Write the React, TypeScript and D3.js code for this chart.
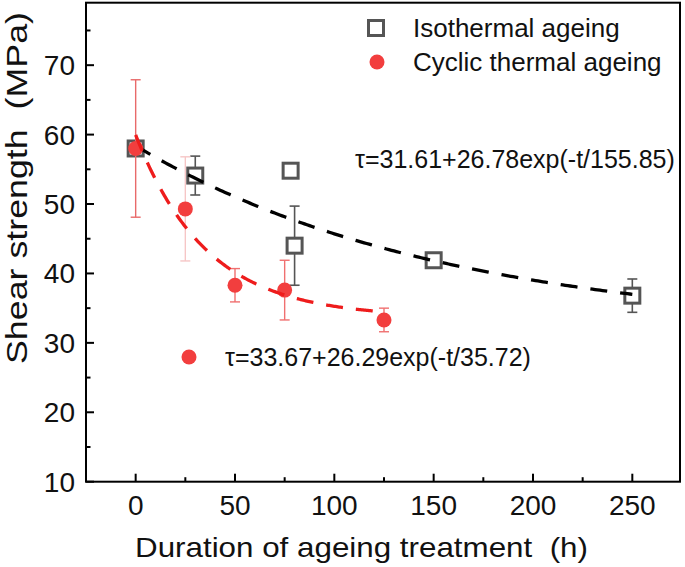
import React from "react";
import * as d3 from "d3";

// ---- data ----
const isoT = [0, 30, 78, 80, 150, 250];
const isoV = [58, 54.1, 54.8, 44, 41.9, 36.8];
const isoErr = [0, 2.8, 0, 5.7, 0, 2.4];

const cycT = [0, 25, 50, 75, 125];
const cycV = [58, 49.3, 38.3, 37.6, 33.3];
const cycErr = [9.9, 7.5, 2.4, 4.3, 1.7];
const cycErrColor = ["#e86a6a", "#f6c6c6", "#f07070", "#f07070", "#f07070"];

// fit parameters shown on the chart: tau = a + b*exp(-t/c)
const isoFit = [31.61, 26.78, 155.85];
const cycFit = [33.67, 26.29, 35.72];
const isoFitRange = [0, 250];
const cycFitRange = [0, 125];

const xTicks = [0, 50, 100, 150, 200, 250];
const xMinor = [-25, 25, 75, 125, 175, 225];
const yTicks = [10, 20, 30, 40, 50, 60, 70];
const yMinor = [15, 25, 35, 45, 55, 65, 75];

const W = 685, H = 567;
const L = 86, R = 680, T = 2.7, B = 481.7;
const FONT = "'Liberation Sans', Arial, sans-serif";

export default function App() {
  const x = d3.scaleLinear().domain([-25, 274]).range([L, R]);
  const y = d3.scaleLinear().domain([10, 79]).range([B, T]);

  const fitPts = (p: number[], r: number[]) =>
    d3.range(0, 201).map((i) => {
      const t = r[0] + ((r[1] - r[0]) * i) / 200;
      return [t, p[0] + p[1] * Math.exp(-t / p[2])] as [number, number];
    });
  const line = d3
    .line<[number, number]>()
    .x((d) => x(d[0]))
    .y((d) => y(d[1]));

  const sq = 15;
  const cap = 5;

  return (
    <svg
      width={W}
      height={H}
      style={{ position: "absolute", left: 0, top: 0, background: "#fff" }}
      fontFamily={FONT}
    >
      <rect x={0} y={0} width={W} height={H} fill="#fff" />
      {/* ticks */}
      {xTicks.map((t) => (
        <g key={"xt" + t}>
          <line x1={x(t)} x2={x(t)} y1={B} y2={B - 8} stroke="#000" strokeWidth={2} />
          <text x={x(t)} y={515} fontSize={28} textAnchor="middle" fill="#111">
            {t}
          </text>
        </g>
      ))}
      {xMinor.map((t) => (
        <line key={"xm" + t} x1={x(t)} x2={x(t)} y1={B} y2={B - 4.5} stroke="#000" strokeWidth={2} />
      ))}
      {yTicks.map((v) => (
        <g key={"yt" + v}>
          <line x1={L} x2={L + 8} y1={y(v)} y2={y(v)} stroke="#000" strokeWidth={2} />
          <text x={75} y={y(v) + 10} fontSize={28} textAnchor="end" fill="#111">
            {v}
          </text>
        </g>
      ))}
      {yMinor.map((v) => (
        <line key={"ym" + v} x1={L} x2={L + 4.5} y1={y(v)} y2={y(v)} stroke="#000" strokeWidth={2} />
      ))}
      {/* frame */}
      <rect x={L} y={T} width={R - L} height={B - T} fill="none" stroke="#000" strokeWidth={2} />

      {/* axis titles */}
      <text x={135} y={557} fontSize={28} textLength={453} lengthAdjust="spacingAndGlyphs" fill="#111">
        {"Duration of ageing treatment\u00a0\u00a0(h)"}
      </text>
      <text
        transform={`translate(27,${188}) rotate(-90)`}
        fontSize={29}
        textAnchor="middle"
        textLength={352}
        lengthAdjust="spacingAndGlyphs"
        fill="#111"
      >
        {"Shear strength\u00a0\u00a0(MPa)"}
      </text>

      {/* isothermal error bars */}
      {isoT.map((t, i) =>
        isoErr[i] > 0 ? (
          <g key={"ie" + i} stroke="#555" strokeWidth={1.6}>
            <line x1={x(t)} x2={x(t)} y1={y(isoV[i] + isoErr[i])} y2={y(isoV[i] - isoErr[i])} />
            <line x1={x(t) - cap} x2={x(t) + cap} y1={y(isoV[i] + isoErr[i])} y2={y(isoV[i] + isoErr[i])} />
            <line x1={x(t) - cap} x2={x(t) + cap} y1={y(isoV[i] - isoErr[i])} y2={y(isoV[i] - isoErr[i])} />
          </g>
        ) : null
      )}
      {/* isothermal squares */}
      {isoT.map((t, i) => (
        <rect
          key={"is" + i}
          x={x(t) - sq / 2}
          y={y(isoV[i]) - sq / 2}
          width={sq}
          height={sq}
          fill="#fff"
          stroke="#555"
          strokeWidth={3}
        />
      ))}
      {/* isothermal fit */}
      <path
        d={line(fitPts(isoFit, isoFitRange)) || ""}
        fill="none"
        stroke="#000"
        strokeWidth={3.3}
        strokeDasharray="17,13"
      />

      {/* cyclic error bars */}
      {cycT.map((t, i) => (
        <g key={"ce" + i} stroke={cycErrColor[i]} strokeWidth={1.4}>
          <line x1={x(t)} x2={x(t)} y1={y(cycV[i] + cycErr[i])} y2={y(cycV[i] - cycErr[i])} />
          <line x1={x(t) - cap} x2={x(t) + cap} y1={y(cycV[i] + cycErr[i])} y2={y(cycV[i] + cycErr[i])} />
          <line x1={x(t) - cap} x2={x(t) + cap} y1={y(cycV[i] - cycErr[i])} y2={y(cycV[i] - cycErr[i])} />
        </g>
      ))}
      {/* cyclic circles */}
      {cycT.map((t, i) => (
        <circle key={"cc" + i} cx={x(t)} cy={y(cycV[i])} r={7.5} fill="#f23e3e" />
      ))}
      {/* cyclic fit */}
      <path
        d={line(fitPts(cycFit, cycFitRange)) || ""}
        fill="none"
        stroke="#ee1c1c"
        strokeWidth={3.3}
        strokeDasharray="17,13"
      />

      {/* legend */}
      <rect x={376 - sq / 2} y={28 - sq / 2} width={sq} height={sq} fill="#fff" stroke="#555" strokeWidth={3} />
      <text x={413} y={37} fontSize={26} fill="#111">
        Isothermal ageing
      </text>
      <circle cx={377} cy={62} r={7.5} fill="#f23e3e" />
      <text x={413} y={71} fontSize={26} fill="#111">
        Cyclic thermal ageing
      </text>

      {/* equations */}
      <text x={355} y={168} fontSize={25} fill="#111">
        τ=31.61+26.78exp(-t/155.85)
      </text>
      <circle cx={189} cy={357} r={7.5} fill="#f23e3e" />
      <text x={225} y={366} fontSize={25} fill="#111">
        τ=33.67+26.29exp(-t/35.72)
      </text>
    </svg>
  );
}
